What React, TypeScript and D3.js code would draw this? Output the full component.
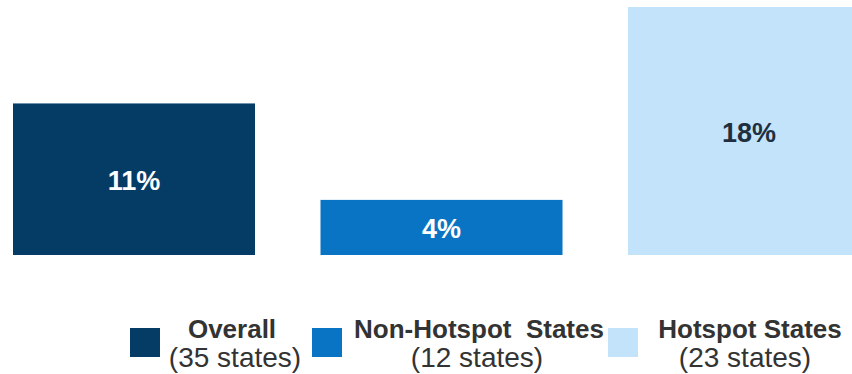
import React from "react";
import * as d3 from "d3";

const categories = ["Overall", "Non-Hotspot States", "Hotspot States"];
const values = [11, 4, 18];
const valueLabels = ["11%", "4%", "18%"];
const legendLine1 = ["Overall", "Non-Hotspot  States", "Hotspot States"];
const legendLine2 = ["(35 states)", "(12 states)", "(23 states)"];
const colors = ["#053c66", "#0a74c4", "#c2e3fa"];
const labelColors = ["#ffffff", "#ffffff", "#1f2f40"];

const W = 852;
const H = 374;

export default function App() {
  const x = d3
    .scaleBand<string>()
    .domain(categories)
    .range([13, 870])
    .paddingInner(0.213)
    .paddingOuter(0);
  const y = d3.scaleLinear().domain([0, 18]).range([255, 7]);

  const squareX = [130, 312, 608];
  const textX = [232, 479, 750];
  const text2X = [235, 477, 745];
  const font = "'Liberation Sans', Arial, Helvetica, sans-serif";

  return (
    <svg
      width={W}
      height={H}
      style={{ position: "absolute", left: 0, top: 0, background: "#fff" }}
      fontFamily={font}
    >
      {categories.map((c, i) => {
        const x0 = x(c)!;
        const bw = x.bandwidth();
        const yTop = y(values[i]);
        const yBot = y(0);
        return (
          <g key={c}>
            <rect x={x0} y={yTop} width={bw} height={yBot - yTop} fill={colors[i]} />
            <text
              x={x0 + bw / 2}
              y={(yTop + yBot) / 2 + 11}
              textAnchor="middle"
              fontSize={27}
              fontWeight="bold"
              fill={labelColors[i]}
            >
              {valueLabels[i]}
            </text>
          </g>
        );
      })}
      {categories.map((c, i) => (
        <g key={"lg" + c}>
          <rect x={squareX[i]} y={328} width={30} height={29} fill={colors[i]} />
          <text
            x={textX[i]}
            y={338}
            textAnchor="middle"
            fontSize={26}
            fontWeight="bold"
            fill="#333333"
            style={{ whiteSpace: "pre" }}
          >
            {legendLine1[i]}
          </text>
          <text
            x={text2X[i]}
            y={367}
            textAnchor="middle"
            fontSize={28}
            fill="#333333"
          >
            {legendLine2[i]}
          </text>
        </g>
      ))}
    </svg>
  );
}
